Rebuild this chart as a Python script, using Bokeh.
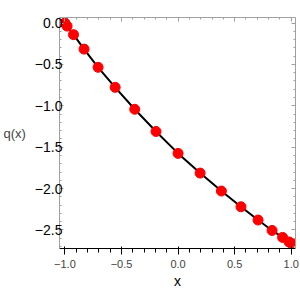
from bokeh.plotting import figure
from bokeh.models import LinearAxis, SingleIntervalTicker, CustomJSTickFormatter, Range1d, Title
from bokeh.embed import file_html
from bokeh.resources import INLINE

# data
xs = [-1.0, -0.981, -0.924, -0.831, -0.707, -0.556, -0.383, -0.195, 0.0,
      0.195, 0.383, 0.556, 0.707, 0.831, 0.924, 0.981, 1.0]
qs = [0.0, -0.037, -0.14, -0.315, -0.535, -0.777, -1.042, -1.31, -1.575,
      -1.813, -2.03, -2.22, -2.38, -2.506, -2.59, -2.645, -2.66]
x_label = "x"
y_label = "q(x)"

FONT = "Liberation Sans"
GRAY = "#a0a0a0"

p = figure(width=300, height=288, x_range=Range1d(-1.048, 1.038),
           y_range=Range1d(-2.724, 0.067), output_backend="svg",
           toolbar_location=None, min_border_left=58, min_border_right=5,
           min_border_top=17, min_border_bottom=0)
p.grid.visible = False
p.outline_line_color = None
p.background_fill_color = "white"
p.border_fill_color = "white"

fmt_code = "if (Math.abs(tick) < 1e-9) { return '0.0'; } return tick.toFixed(1).replace('-', '\u2212');"

for ax in p.xaxis + p.yaxis:
    ax.ticker = SingleIntervalTicker(interval=0.5, num_minor_ticks=5)
    ax.formatter = CustomJSTickFormatter(code=fmt_code)

p.yaxis.axis_label = y_label
p.yaxis.axis_label_orientation = "horizontal"

top = LinearAxis(ticker=SingleIntervalTicker(interval=0.5, num_minor_ticks=5),
                 formatter=CustomJSTickFormatter(code="return '';"))
right = LinearAxis(ticker=SingleIntervalTicker(interval=0.5, num_minor_ticks=5),
                   formatter=CustomJSTickFormatter(code="return '';"))
p.add_layout(top, "above")
p.add_layout(right, "right")

for ax in [p.xaxis[0], p.yaxis[0], top, right]:
    ax.axis_line_color = GRAY
    ax.major_tick_line_color = GRAY
    ax.minor_tick_line_color = GRAY
    ax.major_tick_in = 4
    ax.major_tick_out = 0
    ax.minor_tick_in = 2
    ax.minor_tick_out = 0
    ax.major_label_standoff = 0
    ax.major_label_text_font = FONT
    ax.major_label_text_font_size = "14px"
    ax.major_label_text_color = "black"
    ax.axis_label_text_font = FONT
    ax.axis_label_text_font_style = "normal"
    ax.axis_label_text_font_size = "14px"
    ax.axis_label_standoff = 0

ya = p.yaxis[0]
ya.major_label_standoff = -3
ya.axis_label_standoff = 6
ya.axis_label_text_font_size = "13px"

# x axis title as a title panel below the axis (takes less room than an axis label)
p.add_layout(Title(text=x_label, align="center", text_font=FONT, text_font_size="14px",
                   text_font_style="normal", text_color="black", standoff=0, offset=0),
             "below")

p.line(xs, qs, line_color="black", line_width=2)
p.scatter(xs, qs, size=10, fill_color="red", line_color="red")

open("out.html", "w").write(file_html(p, INLINE))
